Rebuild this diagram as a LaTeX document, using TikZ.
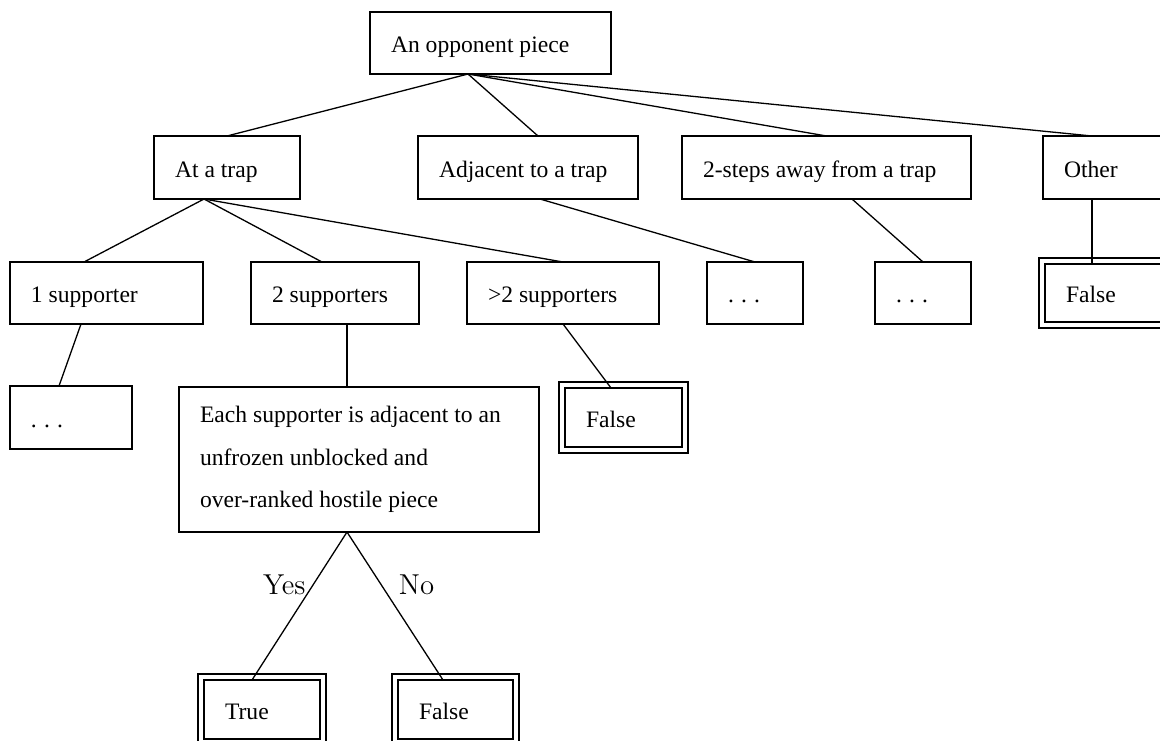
\documentclass[tikz,border=0pt]{standalone}
\usepackage{fontspec}
\newfontfamily\treefont{Liberation Serif}
\begin{document}
\begin{tikzpicture}[x=0.5pt,y=-0.5pt,
 box/.style={draw,line width=0.9pt,anchor=north west,outer sep=0pt,align=flush left,
  inner xsep=10.5pt,font=\treefont\fontsize{11.8}{21.25}\selectfont},
 tag/.style={box,text height=11.5pt,text depth=2pt},
 leaf/.style={tag,line width=1.2pt},
 edge/.style={line width=0.65pt}]
\path[use as bounding box,clip] (0,0) rectangle (1160,740);
\node[tag,text width=99.5pt,minimum height=31pt]   (root) at (370,12) {An opponent piece};
\node[tag,text width=52pt,minimum height=31.5pt]   (trap) at (154,136) {At a trap};
\node[tag,text width=89pt,minimum height=31.5pt]   (adj) at (418,136) {Adjacent to a trap};
\node[tag,text width=123.5pt,minimum height=31.5pt] (away) at (682,136) {2-steps away from a trap};
\node[tag,text width=52.5pt,minimum height=31.5pt] (other) at (1043,136) {Other};
\node[tag,text width=75.5pt,minimum height=31pt]   (one) at (10,262) {1 supporter};
\node[tag,text width=63pt,minimum height=31pt]     (two) at (251,262) {2 supporters};
\node[tag,text width=75pt,minimum height=31pt]     (more) at (467,262) {>2 supporters};
\node[tag,text width=27pt,minimum height=31pt]     (adjdots) at (707,262) {.\kern3.6pt.\kern3.6pt.};
\node[tag,text width=27pt,minimum height=31pt]     (awaydots) at (875,262) {.\kern3.6pt.\kern3.6pt.};
\node[leaf,text width=50.5pt,minimum height=29pt]  (otherno) at (1045,264) {False};
\node[tag,text width=40pt,minimum height=31.5pt]   (onedots) at (10,386) {.\kern3.6pt.\kern3.6pt.};
\node[box,text width=159pt,minimum height=72.5pt]  (each) at (179,387)
 {Each supporter is adjacent to an\\unfrozen unblocked and\\over-ranked hostile piece};
\node[leaf,text width=37.5pt,minimum height=29.5pt] (moreno) at (565,388) {False};
\node[leaf,text width=37pt,minimum height=29.5pt]  (yes) at (204,680) {True};
\node[leaf,text width=36.5pt,minimum height=29.5pt] (no) at (398,680) {False};
\foreach \n in {otherno,moreno,yes,no}
 \draw[line width=0.6pt] ([shift={(-3pt,3pt)}]\n.north west) rectangle ([shift={(3pt,-3pt)}]\n.south east);
\draw[edge] ([xshift=-11.25pt]root.south) -- (trap.north);
\draw[edge] ([xshift=-11.25pt]root.south) -- ([xshift=5pt]adj.north);
\draw[edge] ([xshift=-11.25pt]root.south) -- (away.north);
\draw[edge] ([xshift=-11.25pt]root.south) -- ([xshift=-12.25pt]other.north);
\draw[edge] ([xshift=-11.5pt]trap.south) -- ([xshift=-11.25pt]one.north);
\draw[edge] ([xshift=-11.5pt]trap.south) -- ([xshift=-6.5pt]two.north);
\draw[edge] ([xshift=-11.5pt]trap.south) -- (more.north);
\draw[edge] ([xshift=6pt]adj.south) -- (adjdots.north);
\draw[edge] ([xshift=12.75pt]away.south) -- (awaydots.north);
\draw[edge] ([xshift=-12.25pt]other.south) -- ([xshift=-12.25pt]otherno.north);
\draw[edge] ([xshift=-12.75pt]one.south) -- ([xshift=-6pt]onedots.north);
\draw[edge] ([xshift=6pt]two.south) -- ([xshift=-6pt]each.north);
\draw[edge] (more.south) -- ([xshift=-6.25pt]moreno.north);
\draw[edge] ([xshift=-6pt]each.south) -- ([xshift=-5pt]yes.north)
 node[pos=0.36,left,font=\fontsize{14.4}{17}\selectfont] {Yes};
\draw[edge] ([xshift=-6pt]each.south) -- ([xshift=-6.25pt]no.north)
 node[pos=0.36,right=5pt,font=\fontsize{14.4}{17}\selectfont] {No};
\end{tikzpicture}
\end{document}
